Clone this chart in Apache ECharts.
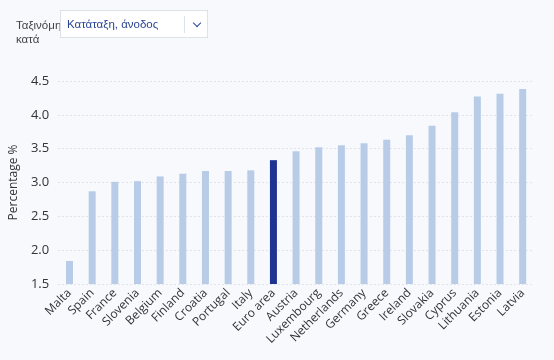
<!DOCTYPE html>
<html>
<head>
<meta charset="utf-8">
<script src="https://cdn.jsdelivr.net/npm/echarts@6/dist/echarts.min.js"></script>
<style>
  html, body { margin: 0; padding: 0; background: #f7f9fd; }
  #wrap { position: relative; width: 554px; height: 360px; overflow: hidden; }
  #chart { position: absolute; left: 0; top: 0; width: 554px; height: 360px; }
  #lbl { position: absolute; left: 16px; top: 18px; width: 60px; font-family: "Liberation Sans", sans-serif; font-size: 11.5px; line-height: 14px; color: #444; }
  #sel { position: absolute; left: 60px; top: 10px; width: 148px; height: 28px; box-sizing: border-box; background: #fff; border: 1px solid #dde1e8; font-family: "Liberation Sans", sans-serif; font-size: 11.5px; color: #2b4596; }
  #sel .t { position: absolute; left: 6px; top: 7px; }
  #sel .sep { position: absolute; left: 123px; top: 5px; width: 1px; height: 17px; background: #dde1e8; }
  #sel .chev { position: absolute; left: 133px; top: 9px; width: 5px; height: 5px; border-right: 1.3px solid #2b4596; border-bottom: 1.3px solid #2b4596; transform: rotate(45deg); }
</style>
</head>
<body>
<div id="wrap">
  <div id="chart"></div>
  <div id="lbl">Ταξινόμηση κατά</div>
  <div id="sel"><span class="t">Κατάταξη, άνοδος</span><span class="sep"></span><span class="chev"></span></div>
</div>
<script>
const categories = ["Malta","Spain","France","Slovenia","Belgium","Finland","Croatia","Portugal","Italy","Euro area","Austria","Luxembourg","Netherlands","Germany","Greece","Ireland","Slovakia","Cyprus","Lithuania","Estonia","Latvia"];
const values = [1.84,2.87,3.01,3.02,3.09,3.13,3.17,3.17,3.18,3.33,3.46,3.52,3.55,3.58,3.63,3.70,3.84,4.04,4.27,4.31,4.38];
const highlight = "Euro area";
const yTicks = [1.5, 2.0, 2.5, 3.0, 3.5, 4.0, 4.5];

const chart = echarts.init(document.getElementById('chart'), null, {renderer: 'canvas'});
chart.setOption({
  backgroundColor: '#f7f9fd',
  animation: false,
  textStyle: { fontFamily: '"Open Sans", sans-serif' },
  grid: { left: 47, right: 20, top: 81, bottom: 76, containLabel: false },
  xAxis: {
    type: 'category',
    data: categories,
    axisLine: { show: false },
    axisTick: { show: false },
    axisLabel: { interval: 0, rotate: 45, margin: 7, fontSize: 12, color: '#333', fontFamily: '"Open Sans", sans-serif' }
  },
  yAxis: {
    type: 'value',
    min: yTicks[0],
    max: yTicks[yTicks.length - 1],
    interval: 0.5,
    name: 'Percentage %',
    nameLocation: 'middle',
    nameGap: 36,
    nameTextStyle: { fontSize: 12, color: '#333', fontFamily: '"Open Sans", sans-serif' },
    axisLabel: { fontSize: 13, color: '#333', margin: 9, formatter: v => v.toFixed(1) },
    splitLine: { lineStyle: { color: '#d9dde4', type: [1.5, 2.5], width: 1 } },
    axisLine: { show: false },
    axisTick: { show: false }
  },
  series: [{
    type: 'bar',
    barWidth: 7,
    data: values.map((v, i) => ({
      value: v,
      itemStyle: { color: categories[i] === highlight ? '#1f3393' : '#b8cce8' }
    }))
  }]
});
</script>
</body>
</html>
